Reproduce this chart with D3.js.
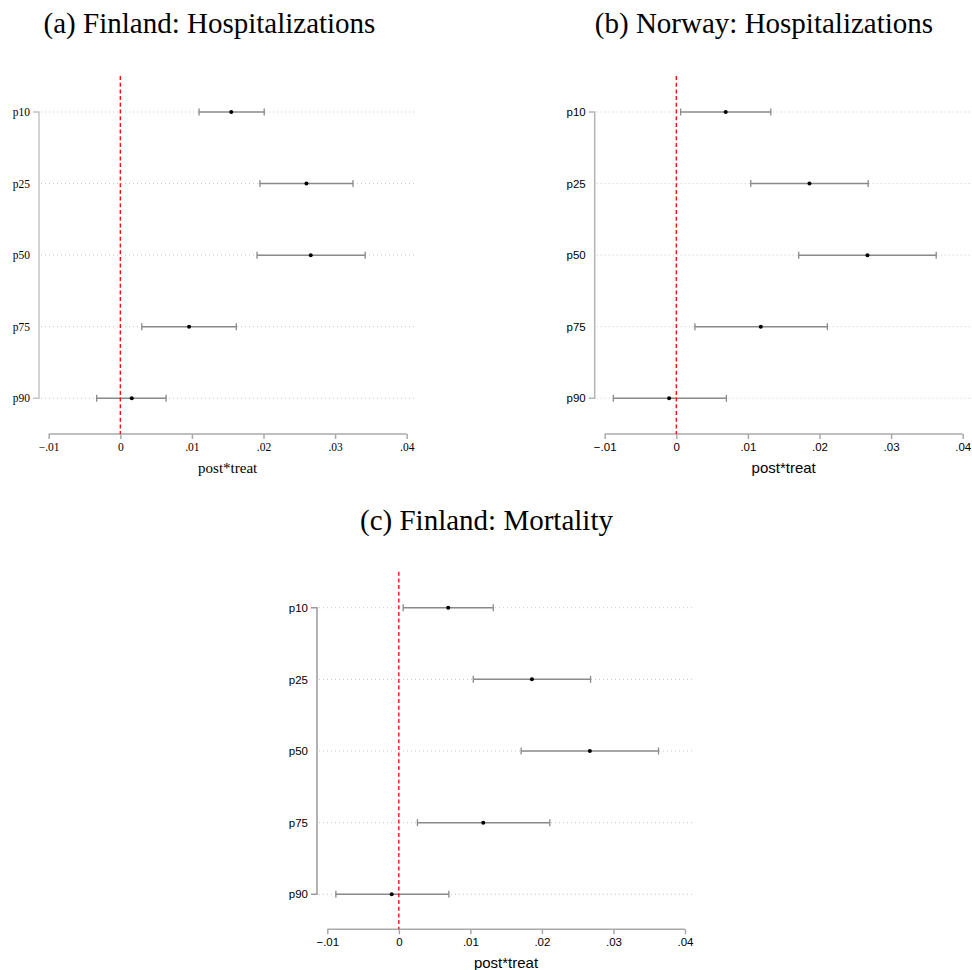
<!DOCTYPE html>
<html>
<head>
<meta charset="utf-8">
<script src="https://cdn.jsdelivr.net/npm/d3@7"></script>
<style>
  body { margin: 0; background: #fff; }
  svg { display: block; }
</style>
</head>
<body>
<script>
// quantile rows and x ticks shared by all three panels
var quantiles = ["p10", "p25", "p50", "p75", "p90"];
var xTicks = [-0.01, 0, 0.01, 0.02, 0.03, 0.04];

// (a) Finland hospitalizations
var finHospEst = [0.0155, 0.0260, 0.0266, 0.0096, 0.0016];
var finHospLo  = [0.0110, 0.0195, 0.0191, 0.0030, -0.0033];
var finHospHi  = [0.0201, 0.0325, 0.0342, 0.0162, 0.0064];

// (b) Norway hospitalizations
var norHospEst = [0.0069, 0.0186, 0.0267, 0.0118, -0.0010];
var norHospLo  = [0.0006, 0.0104, 0.0171, 0.0026, -0.0088];
var norHospHi  = [0.0132, 0.0268, 0.0363, 0.0211, 0.0070];

// (c) Finland mortality
var finMortEst = [0.0069, 0.0186, 0.0267, 0.0118, -0.0010];
var finMortLo  = [0.0006, 0.0104, 0.0171, 0.0026, -0.0088];
var finMortHi  = [0.0132, 0.0268, 0.0363, 0.0211, 0.0070];

var svg = d3.select("body").append("svg")
    .attr("width", 972)
    .attr("height", 970);

var serif = "'Liberation Serif', 'Times New Roman', serif";
var sans = "'Liberation Sans', Arial, sans-serif";

var panels = [
  {title: "(a) Finland: Hospitalizations", est: finHospEst, lo: finHospLo, hi: finHospHi,
   x0: 48.7, x1: 406.7, y0: 112, y1: 398.3, axisX: 39, axisY: 434, lineTop: 76, gridEnd: 414,
   titleX: 209.5, titleY: 33, labelX: 227.7, font: serif, yAxisColor: "#c4c4c4"},
  {title: "(b) Norway: Hospitalizations", est: norHospEst, lo: norHospLo, hi: norHospHi,
   x0: 604.7, x1: 962.7, y0: 112, y1: 398.3, axisX: 594.7, axisY: 434, lineTop: 76, gridEnd: 971,
   titleX: 764, titleY: 33, labelX: 783.7, font: sans, yAxisColor: "#b4b4b4"},
  {title: "(c) Finland: Mortality", est: finMortEst, lo: finMortLo, hi: finMortHi,
   x0: 327.3, x1: 685, y0: 607.7, y1: 894.3, axisX: 317, axisY: 929.3, lineTop: 571.7, gridEnd: 693,
   titleX: 486.5, titleY: 530, labelX: 506, font: sans, yAxisColor: "#9a9a9a"}
];

panels.forEach(function(p) {
  var rows = quantiles.map(function(q, i) {
    return {q: q, est: p.est[i], lo: p.lo[i], hi: p.hi[i]};
  });

  var x = d3.scaleLinear().domain([-0.01, 0.04]).range([p.x0, p.x1]);
  var y = d3.scalePoint().domain(quantiles).range([p.y0, p.y1]);
  var g = svg.append("g");

  // title
  g.append("text")
      .attr("x", p.titleX)
      .attr("y", p.titleY)
      .attr("text-anchor", "middle")
      .style("font-family", serif)
      .style("font-size", "29px")
      .style("fill", "#000")
      .text(p.title);

  // dotted gridlines
  g.selectAll(".grid")
      .data(quantiles).enter()
      .append("line")
      .attr("x1", p.axisX + 2)
      .attr("x2", p.gridEnd)
      .attr("y1", function(d) { return y(d); })
      .attr("y2", function(d) { return y(d); })
      .style("stroke", "#c8c8c8")
      .style("stroke-width", 1)
      .style("stroke-dasharray", "1,3");

  // y axis
  var yAxis = g.append("g")
      .attr("transform", "translate(" + p.axisX + ",0)")
      .call(d3.axisLeft(y).tickSize(6).tickPadding(3));
  yAxis.select(".domain").attr("d", "M-6," + p.y0 + "H0V" + p.y1 + "H-6")
      .style("stroke", p.yAxisColor).style("stroke-width", 1.5);
  yAxis.selectAll(".tick line").remove();
  yAxis.selectAll("text")
      .style("font-family", p.font)
      .style("font-size", "11.5px")
      .style("fill", "#000");

  // x axis
  var xAxis = g.append("g")
      .attr("transform", "translate(0," + p.axisY + ")")
      .call(d3.axisBottom(x).tickValues(xTicks).tickSize(5).tickPadding(4)
        .tickFormat(function(d) { return d === 0 ? "0" : d3.format(".2f")(d).replace("0.", "."); }));
  xAxis.select(".domain").attr("d", "M" + p.x0 + ",0H" + p.x1)
      .style("stroke", "#aaa").style("stroke-width", 1.5);
  xAxis.selectAll(".tick line").style("stroke", "#aaa").style("stroke-width", 1.5);
  xAxis.selectAll("text")
      .style("font-family", p.font)
      .style("font-size", "11.5px")
      .style("fill", "#000");

  // x label
  g.append("text")
      .attr("x", p.labelX)
      .attr("y", p.axisY + 39)
      .attr("text-anchor", "middle")
      .style("font-family", p.font)
      .style("font-size", "15px")
      .style("fill", "#000")
      .text("post*treat");

  // confidence intervals
  g.selectAll(".ci")
      .data(rows).enter()
      .append("line")
      .attr("x1", function(d) { return x(d.lo); })
      .attr("x2", function(d) { return x(d.hi); })
      .attr("y1", function(d) { return y(d.q); })
      .attr("y2", function(d) { return y(d.q); })
      .style("stroke", "#8a8a8a")
      .style("stroke-width", 1.5);

  ["lo", "hi"].forEach(function(k) {
    g.selectAll(".cap-" + k)
        .data(rows).enter()
        .append("line")
        .attr("x1", function(d) { return x(d[k]); })
        .attr("x2", function(d) { return x(d[k]); })
        .attr("y1", function(d) { return y(d.q) - 3.5; })
        .attr("y2", function(d) { return y(d.q) + 3.5; })
        .style("stroke", "#8a8a8a")
        .style("stroke-width", 1.3);
  });

  // zero line
  g.append("line")
      .attr("x1", x(0)).attr("x2", x(0))
      .attr("y1", p.lineTop).attr("y2", p.axisY)
      .style("stroke", "#ff0000")
      .style("stroke-width", 1.3)
      .style("stroke-dasharray", "4,2.7");

  // point estimates
  g.selectAll(".pt")
      .data(rows).enter()
      .append("circle")
      .attr("cx", function(d) { return x(d.est); })
      .attr("cy", function(d) { return y(d.q); })
      .attr("r", 2)
      .style("fill", "#000");
});
</script>
</body>
</html>
